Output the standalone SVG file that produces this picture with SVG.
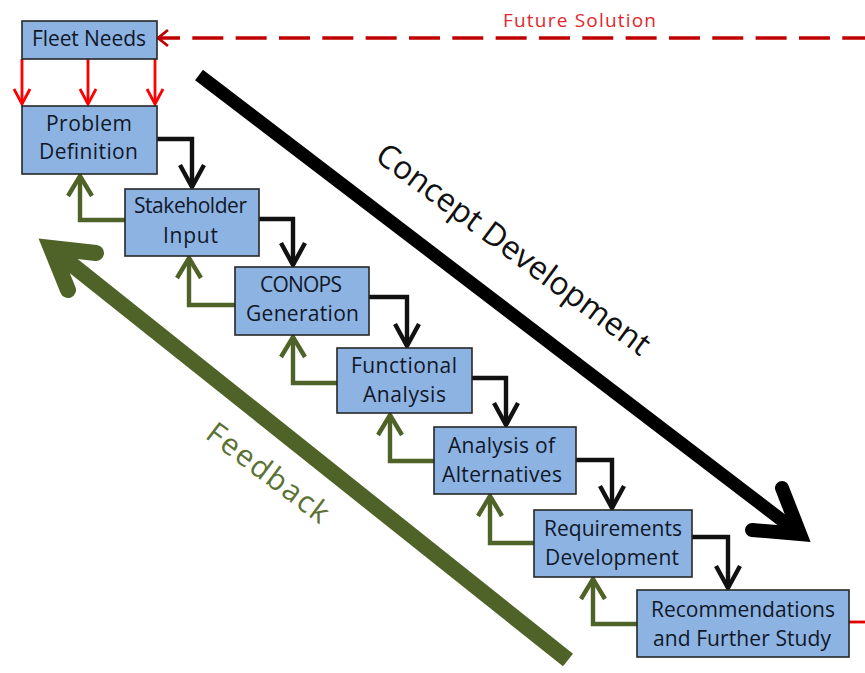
<svg xmlns="http://www.w3.org/2000/svg" width="865" height="673" viewBox="0 0 865 673">
<style>
.box{fill:#8DB3E2;stroke:#262626;stroke-width:1.6}
.lbl{font-family:"Open Sans","Liberation Sans",sans-serif;font-size:21px;fill:#101828;text-anchor:middle}
.blk{fill:none;stroke:#111;stroke-width:4.4;marker-end:url(#mb)}
.grn{fill:none;stroke:#4F6228;stroke-width:4.4;marker-end:url(#mg)}
.red{fill:none;stroke:#FF0000;stroke-width:2.8;marker-end:url(#mr)}
</style>
<defs>
<marker id="mb" markerUnits="userSpaceOnUse" viewBox="-30 -20 40 40" markerWidth="40" markerHeight="40" refX="0" refY="0" orient="auto" overflow="visible">
<path d="M-22,-12 L0,0 L-22,12" fill="none" stroke="#111" stroke-width="4.4"/>
</marker>
<marker id="mg" markerUnits="userSpaceOnUse" viewBox="-30 -20 40 40" markerWidth="40" markerHeight="40" refX="0" refY="0" orient="auto" overflow="visible">
<path d="M-20,-12 L0,0 L-20,12" fill="none" stroke="#4F6228" stroke-width="4.4"/>
</marker>
<marker id="mr" markerUnits="userSpaceOnUse" viewBox="-30 -20 40 40" markerWidth="40" markerHeight="40" refX="0" refY="0" orient="auto" overflow="visible">
<path d="M-15,-8 L0,0 L-15,8" fill="none" stroke="#FF0000" stroke-width="2.8"/>
</marker>
<marker id="md" markerUnits="userSpaceOnUse" viewBox="-30 -20 40 40" markerWidth="40" markerHeight="40" refX="0" refY="0" orient="auto-start-reverse" overflow="visible">
<path d="M-10,-8 L0,0 L-10,8" fill="none" stroke="#C00000" stroke-width="2.8"/>
</marker>
</defs>
<rect width="865" height="673" fill="#fff"/>

<g id="concept-development">
<path d="M199,75 L800,534" fill="none" stroke="#000" stroke-width="13"/>
<path d="M782,488 L800,534 L752,530" fill="none" stroke="#000" stroke-width="14" stroke-linecap="round" stroke-linejoin="miter"/>
<text transform="translate(507,258) rotate(36.5)" font-family="Open Sans, Liberation Sans, sans-serif" font-size="32" fill="#111" text-anchor="middle" textLength="332">Concept Development</text>
</g>

<g id="feedback">
<path d="M568,660 L51,248" fill="none" stroke="#4F6228" stroke-width="16"/>
<path d="M96,253 L51,248 L68,290" fill="none" stroke="#4F6228" stroke-width="16" stroke-linecap="round" stroke-linejoin="miter"/>
<text transform="translate(262,481) rotate(37)" font-family="Open Sans, Liberation Sans, sans-serif" font-size="30" fill="#5B7133" text-anchor="middle" textLength="145">Feedback</text>
</g>

<g id="connectors">
<path class="red" d="M22,59 V104"/>
<path class="red" d="M88,59 V104"/>
<path class="red" d="M155,59 V104"/>
<path d="M158,38 H865" fill="none" stroke="#C00000" stroke-width="3.6" stroke-dasharray="31 12.33" stroke-dashoffset="9" marker-start="url(#md)"/>
<path class="blk" d="M157,139 H192 V187"/>
<path class="blk" d="M259,219 H293 V265"/>
<path class="blk" d="M369,297 H407 V346"/>
<path class="blk" d="M472,378 H506 V425"/>
<path class="blk" d="M576,460 H612 V508"/>
<path class="blk" d="M692,537 H728 V588"/>
<path class="grn" d="M125,220 H80 V176"/>
<path class="grn" d="M235,305 H189 V258"/>
<path class="grn" d="M337,383 H293 V337"/>
<path class="grn" d="M434,461 H390 V415"/>
<path class="grn" d="M534,543 H490 V496"/>
<path class="grn" d="M637,624 H593 V579"/>
<path d="M849,622 H865" fill="none" stroke="#E00000" stroke-width="2.8"/>
</g>

<text x="579.5" y="27" font-family="Open Sans, Liberation Sans, sans-serif" font-size="19" fill="#E0282E" text-anchor="middle" textLength="153">Future Solution</text>

<g id="fleet-needs">
<rect class="box" x="22" y="21" width="135" height="38"/>
<text class="lbl" x="89" y="46" textLength="114">Fleet Needs</text>
</g>
<g id="problem-definition">
<rect class="box" x="22" y="106" width="135" height="68"/>
<text class="lbl" x="89" y="131" textLength="86">Problem</text>
<text class="lbl" x="88.5" y="159" textLength="99">Definition</text>
</g>
<g id="stakeholder-input">
<rect class="box" x="125" y="189" width="134" height="67"/>
<text class="lbl" x="190.5" y="213" textLength="113">Stakeholder</text>
<text class="lbl" x="190.5" y="243" textLength="55">Input</text>
</g>
<g id="conops-generation">
<rect class="box" x="235" y="267" width="134" height="68"/>
<text class="lbl" x="301" y="292" textLength="82">CONOPS</text>
<text class="lbl" x="302.5" y="321" textLength="113">Generation</text>
</g>
<g id="functional-analysis">
<rect class="box" x="337" y="348" width="135" height="65"/>
<text class="lbl" x="404" y="373" textLength="106">Functional</text>
<text class="lbl" x="404.5" y="402" textLength="83">Analysis</text>
</g>
<g id="analysis-of-alternatives">
<rect class="box" x="434" y="427" width="142" height="67"/>
<text class="lbl" x="501.5" y="453" textLength="107">Analysis of</text>
<text class="lbl" x="502" y="482" textLength="120">Alternatives</text>
</g>
<g id="requirements-development">
<rect class="box" x="534" y="510" width="158" height="67"/>
<text class="lbl" x="613" y="536" textLength="138">Requirements</text>
<text class="lbl" x="612" y="565" textLength="134">Development</text>
</g>
<g id="recommendations">
<rect class="box" x="637" y="590" width="212" height="67"/>
<text class="lbl" x="743" y="617" textLength="184">Recommendations</text>
<text class="lbl" x="742" y="646" textLength="178">and Further Study</text>
</g>
</svg>
